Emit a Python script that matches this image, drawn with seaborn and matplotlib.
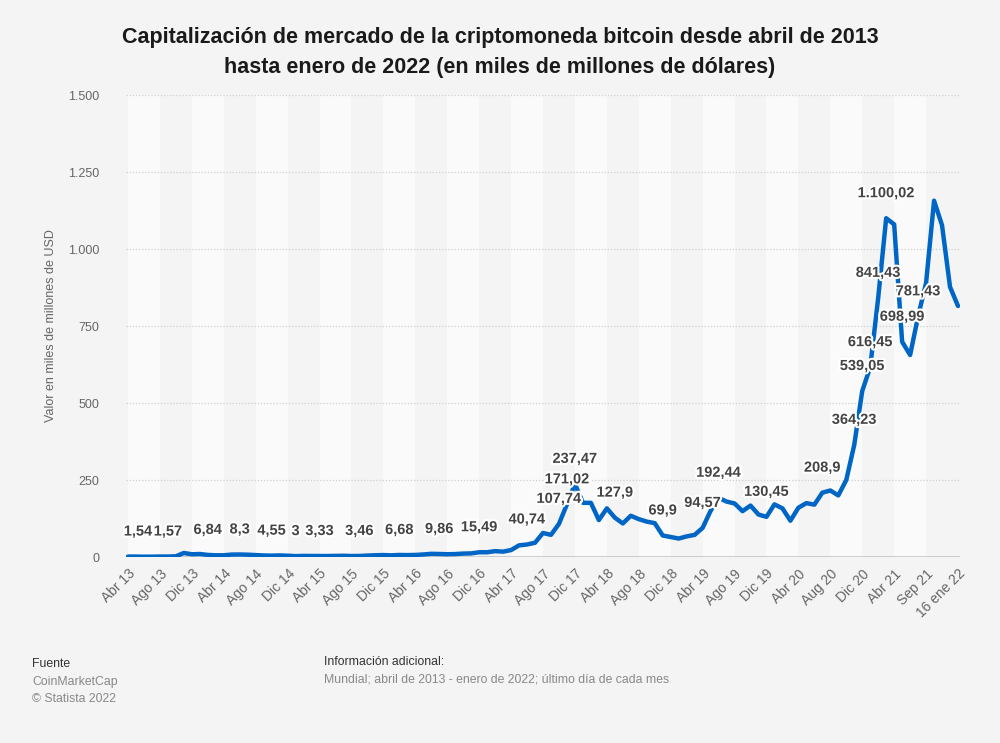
# -*- coding: utf-8 -*-

import numpy as np
import pandas as pd
import matplotlib.pyplot as plt
import matplotlib.patheffects as pe
import seaborn as sns

# Data (miles de millones de USD, ultimo dia de cada mes)
valores = [1.54, 1.45, 1.08, 1.2, 1.6, 1.57, 2.4, 13.1, 9.0, 9.8,
           6.84, 5.6, 5.7, 8.0, 8.3, 7.6, 6.3, 5.1, 4.55, 5.2,
           4.3, 3, 3.6, 3.4, 3.33, 3.3, 3.7, 4.1, 3.3, 3.46,
           4.8, 5.7, 6.4, 5.5, 6.68, 6.3, 6.8, 8.3, 10.4, 9.86,
           9.1, 9.6, 11.2, 11.8, 15.49, 15.5, 19.1, 17.5, 22.6, 37.9,
           40.74, 46.4, 78, 72, 107.74, 171.02, 237.47, 176, 176, 120,
           158, 127.9, 109, 134, 123, 115, 110, 69.9, 65, 60,
           67, 72, 94.57, 150, 192.44, 180, 174, 149, 167, 138,
           130.45, 171, 158, 118, 160, 175, 170, 208.9, 216, 200,
           250, 364.23, 539.05, 616.45, 841.43, 1100.02, 1080, 698.99, 656, 781.43,
           890, 1157, 1077, 877, 815]

etiquetas_x = ["Abr 13", "Ago 13", "Dic 13", "Abr 14", "Ago 14", "Dic 14",
               "Abr 15", "Ago 15", "Dic 15", "Abr 16", "Ago 16", "Dic 16",
               "Abr 17", "Ago 17", "Dic 17", "Abr 18", "Ago 18", "Dic 18",
               "Abr 19", "Ago 19", "Dic 19", "Abr 20", "Aug 20", "Dic 20",
               "Abr 21", "Sep 21", "16 ene 22"]

# points that carry a value label
puntos_etiqueta = [0, 5, 10, 14, 18, 21, 24, 29, 34, 39, 44, 50, 54, 55, 56,
                   61, 67, 72, 74, 80, 87, 91, 92, 93, 94, 95, 97, 99]

yticks = [0, 250, 500, 750, 1000, 1250, 1500]

df = pd.DataFrame({"idx": np.arange(len(valores)), "valor": valores})


def fmt_es(v):
    s = "{:,.2f}".format(v).rstrip("0").rstrip(".")
    return s.replace(",", "X").replace(".", ",").replace("X", ".")


sns.set_style("white", {"axes.facecolor": "#f4f4f4", "figure.facecolor": "#f4f4f4"})
plt.rcParams["font.family"] = ["Liberation Sans", "DejaVu Sans"]

fig = plt.figure(figsize=(10, 7.43), dpi=100)
ax = fig.add_axes([0.126, 0.2503, 0.834, 0.6218])

# alternating column bands
tick_pos = list(range(0, len(valores), 4))
for k in range(len(tick_pos) - 1):
    if k % 2 == 0:
        ax.axvspan(tick_pos[k], tick_pos[k + 1], color="#fafafa", zorder=0, lw=0)

for t in yticks[1:]:
    ax.axhline(t, color="#cfcfcf", lw=0.9, ls=(0, (1, 1.5)), zorder=1)
ax.axhline(0, color="#222222", lw=1.0, zorder=3)

sns.lineplot(data=df, x="idx", y="valor", ax=ax, color="#0066c6", lw=3.2,
             zorder=4, solid_joinstyle="round", solid_capstyle="round")

for i in puntos_etiqueta:
    dx = 10 if i == 0 else 0
    ax.annotate(fmt_es(valores[i]), (i, valores[i]), xytext=(dx, 25),
                textcoords="offset pixels", ha="center", va="center",
                fontsize=10.5, fontweight="bold", color="#444444", zorder=5,
                path_effects=[pe.withStroke(linewidth=3, foreground="white")])

ax.set_xlim(-0.25, len(valores) - 1 + 0.25)
ax.set_ylim(0, 1500)
ax.set_xticks(tick_pos)
ax.set_xticklabels(etiquetas_x, rotation=45, ha="right", rotation_mode="anchor",
                   fontsize=10, color="#666666")
ax.set_yticks(yticks)
ax.set_yticklabels([fmt_es(t) for t in yticks], fontsize=9, color="#666666")
ax.tick_params(axis="both", length=0)
ax.tick_params(axis="x", pad=7)
ax.tick_params(axis="y", pad=19)
for s in ax.spines.values():
    s.set_visible(False)
ax.set_xlabel("")
ax.set_ylabel("Valor en miles de millones de USD", fontsize=9, color="#666666")
ax.yaxis.set_label_coords(-0.083, 0.5)

fig.text(0.5, 1 - 52.5 / 743, "Capitalización de mercado de la criptomoneda bitcoin desde abril de 2013\n"
         "hasta enero de 2022 (en miles de millones de dólares)",
         ha="center", va="center", fontsize=15.5, fontweight="bold", color="#1a1a1a",
         linespacing=1.55)

fig.text(0.032, 1 - 664 / 743, "Fuente", fontsize=8.8, color="#333333", va="center")
fig.text(0.032, 1 - 682 / 743, "CoinMarketCap", fontsize=8.8, color="#888888", va="center")
fig.text(0.032, 1 - 699 / 743, "© Statista 2022", fontsize=8.8, color="#888888", va="center")
fig.text(0.324, 1 - 662 / 743, "Información adicional:", fontsize=8.8, color="#333333", va="center")
fig.text(0.324, 1 - 679 / 743, "Mundial; abril de 2013 - enero de 2022; último día de cada mes",
         fontsize=8.8, color="#888888", va="center")

fig.savefig("out.png", dpi=100, facecolor="#f4f4f4")
